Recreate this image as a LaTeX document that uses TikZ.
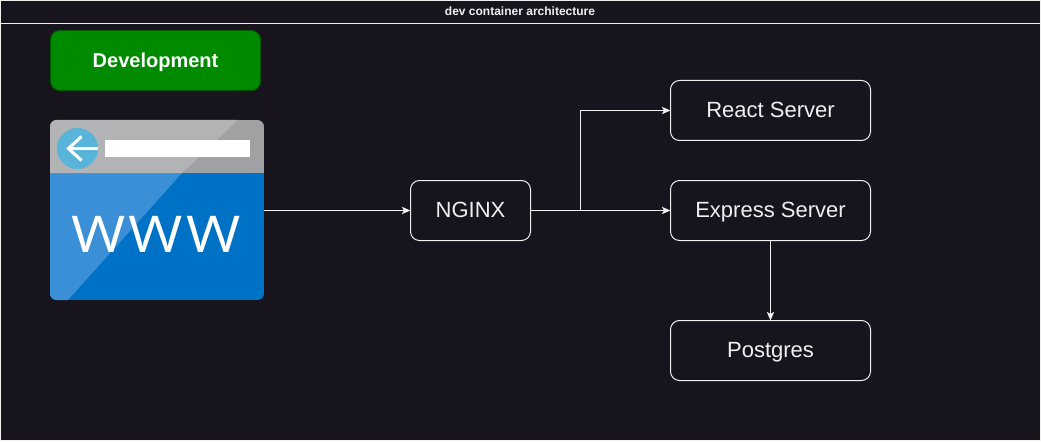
\documentclass[tikz,border=0pt]{standalone}
\usepackage{fontspec}
\setmainfont{Liberation Sans}
\newfontfamily\wwwfont{Open Sans}
\usepackage{graphicx}
\usetikzlibrary{arrows.meta}
\definecolor{bgdark}{HTML}{18141D}
\definecolor{inkline}{HTML}{F0F0F0}
\definecolor{devfill}{HTML}{008A00}
\definecolor{devline}{HTML}{005700}
\definecolor{greydark}{HTML}{A0A1A3}
\definecolor{greylight}{HTML}{B2B3B5}
\definecolor{bluedark}{HTML}{0072C6}
\definecolor{bluelight}{HTML}{3A8FD6}
\definecolor{circleblue}{HTML}{59B4D9}
\newcommand{\wwwletter}{\scalebox{1.1}[0.95]{W}}
\tikzset{
  x=0.75pt,y=-0.75pt,
  server/.style={draw=inkline,line width=0.75pt,rounded corners=6.75pt,inner sep=0pt,outer sep=0pt,
    minimum height=45pt,text=inkline,text height=13pt,text depth=2.6pt,font=\fontsize{16.5pt}{19pt}\selectfont},
  link/.style={draw=inkline,line width=0.75pt,-{Stealth[length=6.5pt,width=5.5pt,inset=1.6pt]}},
}
\begin{document}
\begin{tikzpicture}
\useasboundingbox (0,0) rectangle (1041,442);
\fill[white] (0,0) rectangle (1041,442);
\filldraw[fill=bgdark,draw=inkline,line width=0.75pt] (0.5,0.5) rectangle (1040,440.5);
\draw[inkline,line width=0.75pt] (0.5,23.5) -- (1040,23.5);
\node[text=inkline,font=\bfseries\fontsize{9pt}{11pt}\selectfont,inner sep=0pt] (title) at (520,11) {dev container architecture};
\node[fill=devfill,draw=devline,line width=0.75pt,rounded corners=6.75pt,inner sep=0pt,outer sep=0pt,
  minimum width=157.5pt,minimum height=45pt,text=white,text height=14.2pt,text depth=3.2pt,font=\bfseries\fontsize{15pt}{18pt}\selectfont] (dev) at (155.5,60.5) {Development};
% browser icon
\begin{scope}
  \clip[rounded corners=5pt] (50,120) rectangle (264,300);
  \fill[bluedark] (50,173) rectangle (264,300);
  \fill[greydark] (50,120) rectangle (264,173);
  \fill[bluelight] (50,173) -- (182,173) -- (68,300) -- (50,300) -- cycle;
  \fill[greylight] (50,120) -- (238,120) -- (182,173) -- (50,173) -- cycle;
\end{scope}
\fill[circleblue] (77.5,148.5) circle[radius=15.4pt];
\fill[white] (105,140) rectangle (249.5,157);
\draw[white,line width=2pt] (98,148.5) -- (70,148.5);
\draw[white,line width=2.3pt] (81.5,136.5) -- (68.5,148.5) -- (81.5,160.5);
\node[text=white,font=\wwwfont\fontsize{40pt}{44pt}\selectfont,inner sep=0pt] (wwwtext) at (156,234) {\wwwletter\kern2.5pt\wwwletter\kern2.5pt\wwwletter};
\node[inner sep=0pt,outer sep=0pt,minimum width=160.5pt,minimum height=135pt] (www) at (157,210) {};
% servers
\node[server,minimum width=90pt] (nginx) at (470.5,210.5) {NGINX};
\node[server,minimum width=150pt] (react) at (770.5,110.5) {React Server};
\node[server,minimum width=150pt] (express) at (770.5,210.5) {Express Server};
\node[server,minimum width=150pt] (postgres) at (770.5,350.5) {Postgres};
\coordinate (branch) at (580.5,210.5);
\draw[link] (www.east |- nginx.west) -- (nginx.west);
\draw[link] (nginx.east) -- (express.west);
\draw[link] (nginx.east) -- (branch) |- (react.west);
\draw[link] (express.south) -- (postgres.north);
\end{tikzpicture}
\end{document}
